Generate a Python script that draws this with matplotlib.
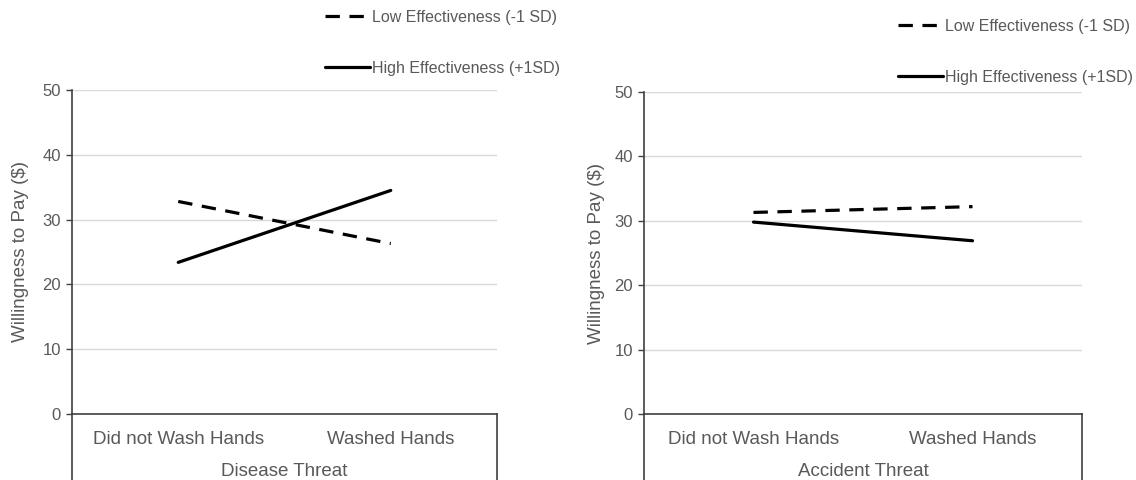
import matplotlib.pyplot as plt

plt.rcParams['font.family'] = ['Liberation Sans', 'DejaVu Sans']

# ---- data ----
conditions = ['Did not Wash Hands', 'Washed Hands']
threats = ['Disease Threat', 'Accident Threat']
low_eff = [[32.8, 26.3], [31.3, 32.2]]
high_eff = [[23.4, 34.5], [29.8, 26.9]]
labels = ['Low Effectiveness (-1 SD)', 'High Effectiveness (+1SD)']
yticks = [0, 10, 20, 30, 40, 50]

W, H = 1136, 480
txt = '#595959'
fig = plt.figure(figsize=(W / 100, H / 100), dpi=100)

# panel boxes in pixels: left, right, top, bottom
boxes = [(72, 497, 90, 414), (644, 1082, 92, 414)]
legend_pos = [(325, 10), (898, 19)]
ylab_x = [-0.102, -0.089]

for i, (l, r, t, b) in enumerate(boxes):
    ax = fig.add_axes([l / W, (H - b) / H, (r - l) / W, (b - t) / H])
    x = range(len(conditions))
    ax.plot(x, low_eff[i], color='black', lw=2.3, linestyle=(0, (4.5, 3)),
            label=labels[0])
    ax.plot(x, high_eff[i], color='black', lw=2.3, solid_capstyle='round',
            label=labels[1])

    ax.set_xlim(-0.5, 1.5)
    ax.set_ylim(0, 50)
    ax.set_yticks(yticks)
    ax.set_xticks(list(x))
    ax.set_xticklabels(conditions, fontsize=13.5, color=txt)
    ax.tick_params(axis='x', length=0, pad=12)
    ax.tick_params(axis='y', length=4, width=1, color='#404040',
                   labelsize=12, labelcolor=txt, pad=4)
    ax.grid(axis='y', color='#d9d9d9', lw=1)
    ax.set_axisbelow(True)
    for s in ['top', 'right']:
        ax.spines[s].set_visible(False)
    for s in ['left', 'bottom']:
        ax.spines[s].set_color('#404040')
        ax.spines[s].set_linewidth(1.2)

    # category group divider lines and group label
    depth = (H - b) / (b - t)
    for xe in [0, 1]:
        ax.plot([xe, xe], [0, -depth], transform=ax.transAxes, clip_on=False,
                color='#404040', lw=1.2)
    ax.text(0.5, -(471 - b) / (b - t), threats[i], transform=ax.transAxes,
            ha='center', va='center', fontsize=13.5, color=txt)

    ax.set_ylabel('Willingness to Pay ($)', fontsize=13.5, color=txt)
    ax.yaxis.set_label_coords(ylab_x[i], 0.5)

    lx, ly = legend_pos[i]
    ax.legend(loc='upper left', bbox_to_anchor=(lx / W, 1 - ly / H),
              bbox_transform=fig.transFigure, frameon=False, fontsize=11.5,
              labelcolor=txt, handlelength=2.8, handletextpad=0.15,
              labelspacing=2.25, borderpad=0, borderaxespad=0)

fig.savefig('out.png', dpi=100)
